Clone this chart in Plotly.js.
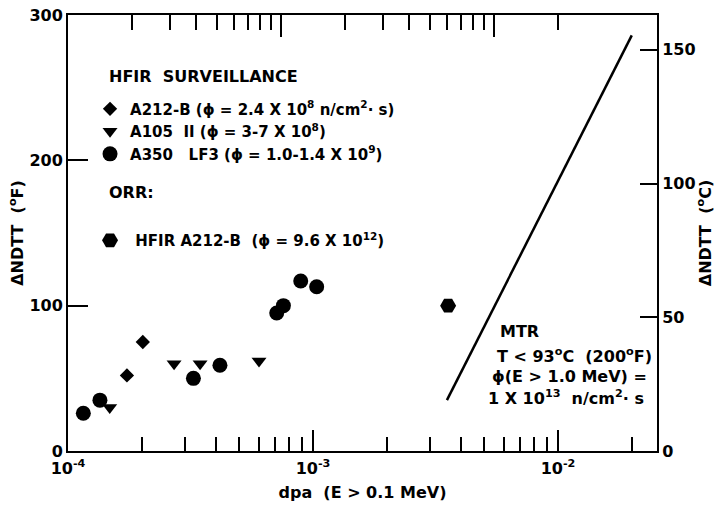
<!DOCTYPE html>
<html><head><meta charset="utf-8">
<script src="https://cdn.plot.ly/plotly-3.0.1.min.js"></script>
<style>body{margin:0;background:#fff}</style></head>
<body><div id="chart" style="width:715px;height:506px"></div>
<script>
// HFIR surveillance: A212-B
const a212Dpa = [1.74e-4, 2.02e-4];
const a212Dndtt = [52, 75];
// HFIR surveillance: A105 II
const a105Dpa = [1.48e-4, 2.71e-4, 3.46e-4, 6.02e-4];
const a105Dndtt = [30, 60, 60, 62];
// HFIR surveillance: A350 LF3
const a350Dpa = [1.155e-4, 1.35e-4, 3.25e-4, 4.17e-4, 7.11e-4, 7.57e-4, 8.91e-4, 1.035e-3];
const a350Dndtt = [26, 35, 50, 59, 95, 100, 117, 113];
// ORR: HFIR A212-B
const orrDpa = [3.56e-3];
const orrDndtt = [100];
// MTR trend line
const mtrDpa = [3.52e-3, 2.0e-2];
const mtrDndtt = [35, 286];

const xMajorTicks = [1e-4, 1e-3, 1e-2];
const xMajorText = ['10<sup>-4</sup>', '10<sup>-3</sup>', '10<sup>-2</sup>'];
const xMinorTicks = [2e-4,3e-4,4e-4,5e-4,6e-4,7e-4,8e-4,9e-4,2e-3,3e-3,4e-3,5e-3,6e-3,7e-3,8e-3,9e-3,2e-2];
const topMajorTicks = [1, 10, 100];
const topMinorTicks = [2,3,4,5,6,7,8,9,20,30,40,50,60,70,80,90,200];
const yLeftTicks = [0, 100, 200, 300];
const yRightTicks = [0, 50, 100, 150];

const FONT = 'DejaVu Sans, Liberation Sans, Arial, sans-serif';
const bold = (s) => ({family: FONT, size: s, color: '#000', weight: 'bold'});

const traces = [
  {x: a212Dpa, y: a212Dndtt, mode: 'markers', type: 'scatter',
   name: 'A212-B (ϕ = 2.4 X 10<sup>8</sup> n/cm<sup>2</sup>· s)', legendgroup: 'hfir',
   marker: {symbol: 'diamond', size: 11, color: '#000'}},
  {x: a105Dpa, y: a105Dndtt, mode: 'markers', type: 'scatter',
   name: 'A105  II (ϕ = 3-7 X 10<sup>8</sup>)', legendgroup: 'hfir',
   marker: {symbol: 'triangle-down', size: 13, color: '#000'}},
  {x: a350Dpa, y: a350Dndtt, mode: 'markers', type: 'scatter',
   name: 'A350   LF3 (ϕ = 1.0-1.4 X 10<sup>9</sup>)', legendgroup: 'hfir',
   marker: {symbol: 'circle', size: 15, color: '#000'}},
  {x: orrDpa, y: orrDndtt, mode: 'markers', type: 'scatter',
   name: ' HFIR A212-B  (ϕ = 9.6 X 10<sup>12</sup>)', legendgroup: 'orr',
   marker: {symbol: 'hexagon2', size: 16, color: '#000'}},
  {x: mtrDpa, y: mtrDndtt, mode: 'lines', type: 'scatter', showlegend: false,
   line: {color: '#000', width: 2.5}},
  {x: [], y: [], type: 'scatter', xaxis: 'x2', yaxis: 'y', showlegend: false, hoverinfo: 'skip'},
  {x: [], y: [], type: 'scatter', xaxis: 'x', yaxis: 'y2', showlegend: false, hoverinfo: 'skip'}
];

const ann = (text, x, y, xanchor, size) => ({text, x, y, xref: 'paper', yref: 'paper',
  xanchor, yanchor: 'middle', showarrow: false, font: bold(size)});

const layout = {
  width: 715, height: 506,
  margin: {l: 68, r: 58, t: 15, b: 55},
  paper_bgcolor: '#fff', plot_bgcolor: '#fff',
  font: bold(16),
  showlegend: true,
  legend: {x: 0.0374, y: 0.822, xanchor: 'left', yanchor: 'top', bgcolor: 'rgba(0,0,0,0)',
           font: bold(15), traceorder: 'grouped', tracegroupgap: 64, itemsizing: 'trace'},
  xaxis: {type: 'log', range: [-4, -1.596], showline: true, linecolor: '#000', linewidth: 2,
          showgrid: false, zeroline: false, ticks: 'inside', ticklen: 21, tickwidth: 2, tickcolor: '#000',
          tickmode: 'array', tickvals: xMajorTicks, ticktext: xMajorText, tickfont: bold(16),
          ticklabelstandoff: 2,
          title: {text: 'dpa  (E > 0.1 MeV)', font: bold(16), standoff: 10},
          minor: {tickmode: 'array', tickvals: xMinorTicks, ticks: 'inside', ticklen: 14, tickwidth: 2, tickcolor: '#000', showgrid: false}},
  xaxis2: {type: 'log', range: [0, 2.765], overlaying: 'x', side: 'top', anchor: 'y',
           showline: true, linecolor: '#000', linewidth: 2, showgrid: false, zeroline: false,
           ticks: 'inside', ticklen: 22, tickwidth: 2, tickcolor: '#000', showticklabels: false,
           tickmode: 'array', tickvals: topMajorTicks,
           minor: {tickmode: 'array', tickvals: topMinorTicks, ticks: 'inside', ticklen: 15, tickwidth: 2, tickcolor: '#000', showgrid: false}},
  yaxis: {range: [0, 300], showline: true, linecolor: '#000', linewidth: 2, showgrid: false, zeroline: false,
          ticks: 'inside', ticklen: 20, tickwidth: 2, tickcolor: '#000',
          tickmode: 'array', tickvals: yLeftTicks, tickfont: bold(16),
          title: {text: 'ΔNDTT  (<sup>o</sup>F)', font: bold(16), standoff: 2}},
  yaxis2: {range: [0, 163], overlaying: 'y', side: 'right', anchor: 'x',
           showline: true, linecolor: '#000', linewidth: 2, showgrid: false, zeroline: false,
           ticks: 'inside', ticklen: 17, tickwidth: 2, tickcolor: '#000',
           tickmode: 'array', tickvals: yRightTicks, tickfont: bold(16),
           title: {text: 'ΔNDTT  (<sup>o</sup>C)', font: bold(16), standoff: 12}},
  annotations: [
    ann('HFIR  SURVEILLANCE', 0.0662, 0.858, 'left', 16),
    ann('ORR:', 0.0662, 0.594, 'left', 16),
    ann('MTR', 0.730, 0.273, 'left', 16),
    ann('T < 93<sup>o</sup>C  (200<sup>o</sup>F)', 0.860, 0.218, 'center', 16),
    ann('ϕ(E > 1.0 MeV) =', 0.851, 0.170, 'center', 16),
    ann('1 X 10<sup>13</sup>  n/cm<sup>2</sup>· s', 0.846, 0.122, 'center', 16)
  ]
};

Plotly.newPlot('chart', traces, layout, {staticPlot: true, displayModeBar: false});
</script>
</body></html>
